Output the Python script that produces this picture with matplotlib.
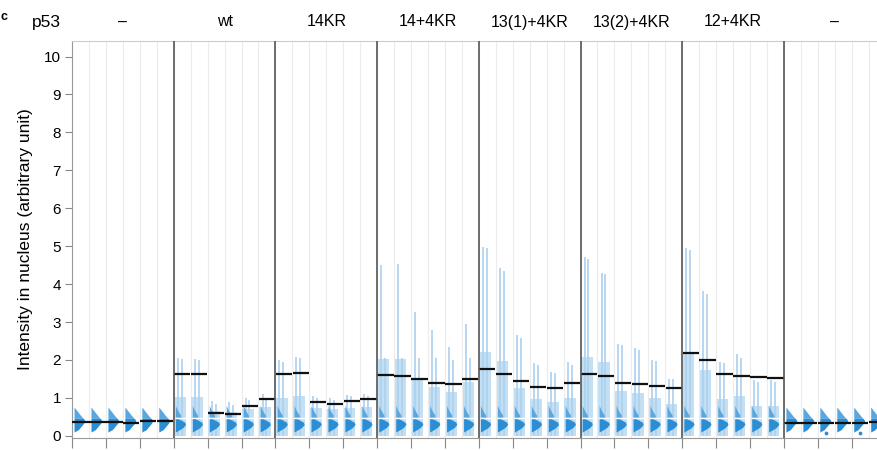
import matplotlib
matplotlib.use("Agg")
import matplotlib.pyplot as plt
from matplotlib.patches import Rectangle

plt.rcParams['font.family'] = ['Liberation Sans', 'DejaVu Sans']

# groups of p53 constructs, 6 measurements each
groups = ["\u2013", "wt", "14KR", "14+4KR", "13(1)+4KR", "13(2)+4KR", "12+4KR", "\u2013"]
is_control = [True, False, False, False, False, False, False, True]

means = [
    [0.37, 0.37, 0.37, 0.35, 0.38, 0.40],
    [1.64, 1.63, 0.59, 0.58, 0.79, 0.96],
    [1.62, 1.65, 0.88, 0.83, 0.92, 0.96],
    [1.60, 1.58, 1.50, 1.40, 1.36, 1.50],
    [1.76, 1.63, 1.44, 1.30, 1.27, 1.39],
    [1.64, 1.58, 1.39, 1.36, 1.32, 1.25],
    [2.19, 1.99, 1.62, 1.58, 1.55, 1.53],
    [0.35, 0.34, 0.33, 0.33, 0.35, 0.37],
]
bar_tops = [
    [0, 0, 0, 0, 0, 0],
    [1.02, 1.02, 0.65, 0.62, 0.70, 0.75],
    [1.00, 1.05, 0.72, 0.70, 0.72, 0.75],
    [2.02, 2.02, 1.48, 1.29, 1.16, 1.41],
    [2.22, 1.97, 1.27, 0.97, 0.88, 0.99],
    [2.08, 1.95, 1.19, 1.14, 0.99, 0.83],
    [2.19, 1.73, 0.97, 1.06, 0.79, 0.79],
    [0, 0, 0, 0, 0, 0],
]
max_a = [
    [0, 0, 0, 0, 0, 0],
    [2.05, 2.03, 0.93, 0.88, 1.00, 1.10],
    [2.00, 2.07, 1.05, 1.00, 1.08, 1.10],
    [4.50, 4.52, 3.26, 2.79, 2.33, 2.94],
    [4.99, 4.42, 2.66, 1.93, 1.69, 1.94],
    [4.71, 4.30, 2.43, 2.31, 1.99, 1.51],
    [4.96, 3.82, 1.95, 2.15, 1.46, 1.46],
    [0, 0, 0, 0, 0, 0],
]
max_b = [
    [0, 0, 0, 0, 0, 0],
    [2.03, 2.00, 0.85, 0.82, 0.95, 1.00],
    [1.95, 2.05, 1.00, 0.95, 1.05, 1.05],
    [2.05, 2.05, 2.05, 2.05, 2.00, 2.05],
    [4.94, 4.35, 2.59, 1.87, 1.65, 1.87],
    [4.65, 4.26, 2.39, 2.26, 1.97, 1.50],
    [4.89, 3.75, 1.92, 2.04, 1.43, 1.43],
    [0, 0, 0, 0, 0, 0],
]

# distribution outline (intensity, relative width)
ctrl_low_y = [0.10, 0.16, 0.24, 0.32, 0.40, 0.46]
ctrl_low_w = [0.0, 0.25, 0.40, 0.55, 0.65, 0.55]
ctrl_up_y = [0.46, 0.52, 0.60, 0.68, 0.76]
ctrl_up_w = [0.55, 0.42, 0.28, 0.14, 0.0]
low_y = [0.10, 0.15, 0.22, 0.30, 0.36, 0.42, 0.46]
low_w = [0.0, 0.20, 0.45, 0.60, 0.55, 0.30, 0.15]
up_y = [0.49, 0.55, 0.62, 0.70, 0.80]
up_w = [0.32, 0.30, 0.20, 0.10, 0.0]

# a few low outliers in last group
out_x = [44.5, 46.5]
out_y = [0.08, 0.07]

n_sub = 6
dark = '#2b8dd4'
mid = '#5aa7df'
light = '#c3dff3'
whisk = '#acd0ef'

fig = plt.figure(figsize=(8.77, 4.5), dpi=100)
ax = fig.add_axes([72 / 877, 1 - 437.7 / 450, 813.6 / 877, (437.7 - 41) / 450])
ax.set_xlim(0, len(groups) * n_sub)
ax.set_ylim(-0.05, 10.41)

for k in range(len(groups) * n_sub + 1):
    ax.axvline(k, color='#ececec', lw=0.8, zorder=0)

for g, name in enumerate(groups):
    for s in range(n_sub):
        x0 = g * n_sub + s
        if bar_tops[g][s] > 0:
            ax.add_patch(Rectangle((x0 + 0.05, 0), 0.67, bar_tops[g][s], color=light, lw=0, zorder=1))
            ax.vlines(x0 + 0.24, 0, max_a[g][s], color=whisk, lw=1.2, zorder=2)
            ax.vlines(x0 + 0.47, 0, max_b[g][s], color=whisk, lw=1.2, zorder=2)
        if is_control[g]:
            ax.fill_betweenx(ctrl_low_y, x0 + 0.12, [x0 + 0.12 + w for w in ctrl_low_w], color=dark, lw=0, zorder=3)
            ax.fill_betweenx(ctrl_up_y, x0 + 0.12, [x0 + 0.12 + w for w in ctrl_up_w], color=mid, lw=0, zorder=3)
        else:
            ax.fill_betweenx(low_y, x0 + 0.1, [x0 + 0.1 + w for w in low_w], color=dark, lw=0, zorder=3)
            ax.fill_betweenx(up_y, x0 + 0.1, [x0 + 0.1 + w for w in up_w], color=mid, lw=0, zorder=3)
            ax.hlines(0.475, x0 + 0.05, x0 + 0.72, color='white', lw=1.0, zorder=4)
        ax.hlines(means[g][s], x0 + 0.02, x0 + 0.98, color='#111111', lw=1.6, zorder=5)
    if g > 0:
        ax.axvline(g * n_sub, color='#555555', lw=1.2, zorder=6)
    fig.text((72 + (g + 0.5) * 101.7) / 877, 1 - 22 / 450, name, ha='center', va='center', fontsize=11.5)

ax.scatter(out_x, out_y, s=3, color=dark, zorder=3)

fig.text(46 / 877, 1 - 22 / 450, "p53", ha='center', va='center', fontsize=12.5)
fig.text(0.001, 1 - 17 / 450, "c", ha='left', va='center', fontsize=9, fontweight='bold')

ax.set_yticks(range(0, 11))
ax.set_xticks(range(0, len(groups) * n_sub + 1, 2))
ax.set_xticklabels([])
ax.tick_params(axis='y', direction='out', length=5, color='#888888', labelsize=11, pad=3)
ax.tick_params(axis='x', direction='out', length=7, color='#888888')
ax.set_ylabel("Intensity in nucleus (arbitrary unit)", fontsize=12.5, labelpad=8)
for side in ['left', 'bottom']:
    ax.spines[side].set_color('#999999')
ax.spines['top'].set_color('#cccccc')
ax.spines['right'].set_visible(False)

fig.savefig("out.png", dpi=100)
